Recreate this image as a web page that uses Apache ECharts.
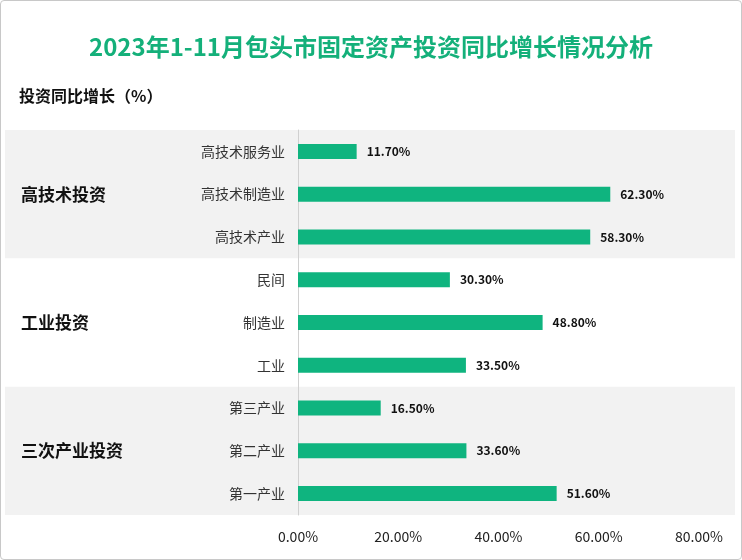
<!DOCTYPE html>
<html><head><meta charset="utf-8">
<script src="https://cdn.jsdelivr.net/npm/echarts@6/dist/echarts.min.js"></script>
<style>html,body{margin:0;padding:0;background:#fff}
#c{width:740px;height:558px;border:1px solid #c8c8c8;border-radius:4px}</style>
</head><body><div id="c"></div>
<script>
const categories=['高技术服务业','高技术制造业','高技术产业','民间','制造业','工业','第三产业','第二产业','第一产业'];
const values=[11.7,62.3,58.3,30.3,48.8,33.5,16.5,33.6,51.6];
const groups=['高技术投资','工业投资','三次产业投资'];
const groupSize=3;
const xTicks=[0,20,40,60,80];
const chart=echarts.init(document.getElementById('c'));
const font='"Microsoft YaHei","Noto Sans CJK SC",sans-serif';
chart.setOption({
  animation:false,
  textStyle:{fontFamily:font},
  title:{text:'2023年1-11月包头市固定资产投资同比增长情况分析',left:'center',top:29,
    textStyle:{color:'#14b07a',fontSize:24,fontWeight:'bold',fontFamily:font}},
  grid:{left:297,right:42,top:129,bottom:44,containLabel:false},
  xAxis:{type:'value',min:xTicks[0],max:xTicks[xTicks.length-1],interval:20,
    axisLabel:{formatter:v=>v.toFixed(2)+'%',color:'#222',fontSize:14,margin:15},
    splitLine:{show:false},axisLine:{show:false},axisTick:{show:false}},
  yAxis:{type:'category',data:categories,inverse:true,
    axisLine:{show:true,lineStyle:{color:'#d0d0d0'}},axisTick:{show:false},
    axisLabel:{color:'#333',fontSize:14,margin:13}},
  series:[{type:'bar',data:values,barWidth:15,itemStyle:{color:'#0fb47f'},
    label:{show:true,position:'right',distance:10,formatter:p=>p.value.toFixed(2)+'%',
      fontWeight:'bold',fontSize:12,color:'#111'}}]
});
function drawBands(){
  const els=[];
  const half=(chart.convertToPixel({yAxisIndex:0},categories[1])-chart.convertToPixel({yAxisIndex:0},categories[0]))/2;
  groups.forEach((g,i)=>{
    const y0=chart.convertToPixel({yAxisIndex:0},categories[i*groupSize])-half;
    const y1=chart.convertToPixel({yAxisIndex:0},categories[i*groupSize+groupSize-1])+half;
    if(i%2===0)els.push({type:'rect',shape:{x:4,y:y0,width:730,height:y1-y0},style:{fill:'#f2f2f2'},z:-10,silent:true});
    els.push({type:'text',x:20,y:(y0+y1)/2,style:{text:g,fill:'#111',font:'bold 17px '+font,textVerticalAlign:'middle'},z:10});
  });
  els.push({type:'text',x:18,y:95,style:{text:'投资同比增长（%）',fill:'#111',font:'bold 16px '+font,textVerticalAlign:'middle'}});
  chart.setOption({graphic:els});
}
drawBands();
</script></body></html>
